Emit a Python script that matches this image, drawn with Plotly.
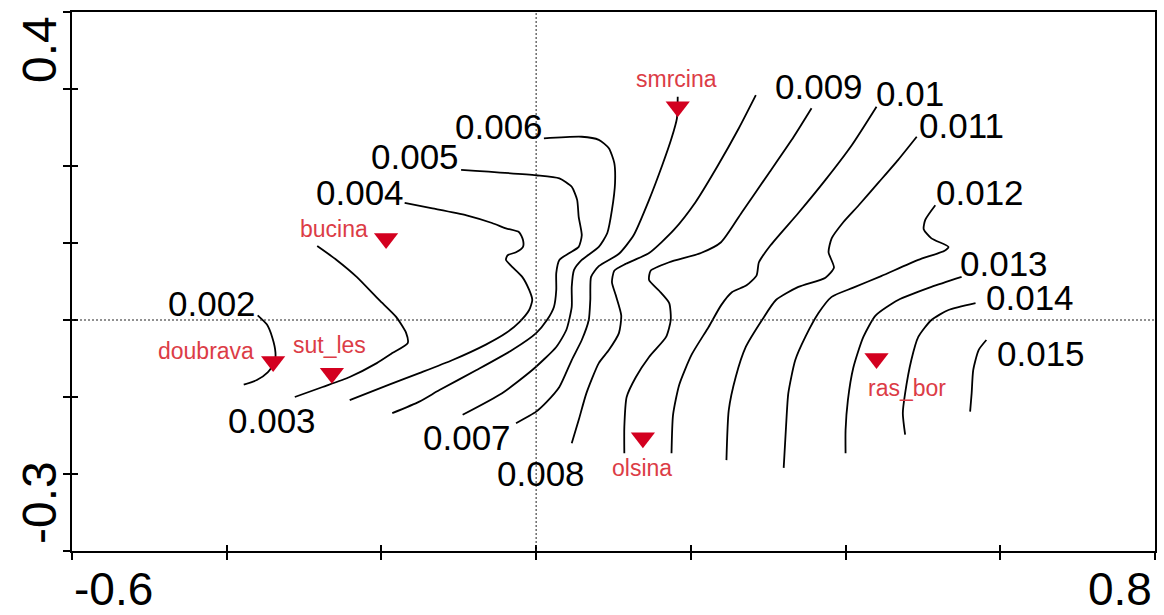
import plotly.graph_objects as go

# ---- isolines of the fitted response surface (ordination axes 1 and 2) ----
levels = [0.002, 0.003, 0.004, 0.005, 0.006, 0.007, 0.008,
          0.009, 0.01, 0.011, 0.012, 0.013, 0.014, 0.015]

x_002 = [-0.360, -0.348, -0.341, -0.337, -0.338, -0.347, -0.361, -0.378]
y_002 = [0.006, -0.006, -0.023, -0.042, -0.055, -0.068, -0.078, -0.084]

x_003 = [-0.312, -0.276, -0.241, -0.206, -0.186, -0.166, -0.168, -0.181, -0.203, -0.232, -0.258, -0.283]
y_003 = [-0.100, -0.087, -0.074, -0.056, -0.043, -0.030, -0.017, 0.004, 0.026, 0.056, 0.078, 0.096]

x_004 = [-0.170, -0.134, -0.090, -0.057, -0.039, -0.022, -0.017, -0.017, -0.026, -0.037, -0.039, -0.031,
         -0.018, -0.009, -0.005, -0.009, -0.022, -0.039, -0.065, -0.108, -0.151, -0.190, -0.241]
y_004 = [0.152, 0.145, 0.136, 0.126, 0.119, 0.114, 0.104, 0.095, 0.088, 0.084, 0.078, 0.069,
         0.056, 0.039, 0.026, 0.013, -0.003, -0.017, -0.032, -0.052, -0.069, -0.084, -0.104]

x_005 = [-0.097, 0.000, 0.030, 0.046, 0.053, 0.055, 0.059, 0.055, 0.043, 0.030, 0.026, 0.026,
         0.023, 0.014, 0.000, -0.031, -0.077, -0.125, -0.151, -0.186]
y_005 = [0.195, 0.188, 0.184, 0.173, 0.156, 0.134, 0.110, 0.095, 0.087, 0.078, 0.061, 0.039,
         0.017, 0.000, -0.017, -0.039, -0.065, -0.091, -0.106, -0.121]

x_006 = [0.010, 0.059, 0.081, 0.094, 0.101, 0.102, 0.098, 0.092, 0.081, 0.059, 0.049, 0.046,
         0.046, 0.039, 0.026, -0.005, -0.044, -0.095]
y_006 = [0.236, 0.238, 0.234, 0.223, 0.204, 0.178, 0.143, 0.113, 0.095, 0.078, 0.065, 0.043,
         0.017, -0.013, -0.035, -0.065, -0.095, -0.123]

x_007 = [-0.026, 0.000, 0.014, 0.030, 0.046, 0.059, 0.068, 0.070, 0.071, 0.081, 0.107, 0.126,
         0.146, 0.163, 0.175, 0.182, 0.183]
y_007 = [-0.134, -0.119, -0.106, -0.087, -0.052, -0.026, 0.000, 0.026, 0.056, 0.070, 0.086, 0.110,
         0.156, 0.201, 0.236, 0.262, 0.290]

x_008 = [0.046, 0.055, 0.065, 0.081, 0.094, 0.107, 0.110, 0.103, 0.098, 0.101, 0.116, 0.146,
         0.178, 0.206, 0.234, 0.262, 0.284]
y_008 = [-0.160, -0.130, -0.095, -0.056, -0.039, -0.017, 0.006, 0.032, 0.049, 0.064, 0.073, 0.087,
         0.117, 0.153, 0.199, 0.249, 0.292]

x_009 = [0.114, 0.114, 0.117, 0.129, 0.146, 0.168, 0.174, 0.172, 0.159, 0.146, 0.148, 0.172,
         0.213, 0.239, 0.266, 0.301, 0.333, 0.356]
y_009 = [-0.173, -0.139, -0.100, -0.074, -0.048, -0.022, 0.000, 0.022, 0.038, 0.052, 0.064, 0.075,
         0.087, 0.101, 0.140, 0.191, 0.238, 0.275]

x_010 = [0.175, 0.177, 0.185, 0.201, 0.223, 0.239, 0.253, 0.272, 0.285, 0.288, 0.303, 0.339,
         0.374, 0.408, 0.440]
y_010 = [-0.173, -0.123, -0.084, -0.045, -0.009, 0.019, 0.036, 0.045, 0.058, 0.075, 0.097, 0.139,
         0.182, 0.227, 0.277]

x_011 = [0.246, 0.249, 0.258, 0.271, 0.292, 0.310, 0.339, 0.374, 0.385, 0.378, 0.382, 0.397,
         0.417, 0.443, 0.468, 0.492]
y_011 = [-0.182, -0.117, -0.074, -0.035, 0.000, 0.026, 0.043, 0.055, 0.068, 0.088, 0.106, 0.127,
         0.149, 0.179, 0.208, 0.238]

x_012 = [0.320, 0.323, 0.326, 0.335, 0.348, 0.365, 0.382, 0.410, 0.446, 0.494, 0.528, 0.533,
         0.511, 0.501, 0.503, 0.516]
y_012 = [-0.192, -0.139, -0.095, -0.052, -0.022, 0.009, 0.030, 0.042, 0.057, 0.078, 0.090, 0.095,
         0.106, 0.118, 0.130, 0.149]

x_013 = [0.400, 0.400, 0.403, 0.410, 0.423, 0.439, 0.468, 0.511, 0.550]
y_013 = [-0.173, -0.143, -0.104, -0.062, -0.022, 0.006, 0.026, 0.043, 0.056]

x_014 = [0.477, 0.474, 0.477, 0.485, 0.494, 0.511, 0.533, 0.568]
y_014 = [-0.149, -0.121, -0.095, -0.052, -0.022, 0.000, 0.013, 0.022]

x_015 = [0.561, 0.563, 0.565, 0.572, 0.582]
y_015 = [-0.119, -0.095, -0.065, -0.039, -0.026]

isolines = [(x_002, y_002), (x_003, y_003), (x_004, y_004), (x_005, y_005),
            (x_006, y_006), (x_007, y_007), (x_008, y_008), (x_009, y_009),
            (x_010, y_010), (x_011, y_011), (x_012, y_012), (x_013, y_013),
            (x_014, y_014), (x_015, y_015)]

# ---- sample sites (passive) ----
site_names = ["doubrava", "sut_les", "bucina", "olsina", "smrcina", "ras_bor"]
site_x = [-0.340, -0.264, -0.194, 0.138, 0.183, 0.440]
site_y = [-0.054, -0.069, 0.106, -0.153, 0.277, -0.050]

# ---- axis end labels ----
x_range = [-0.6, 0.8]
y_range = [-0.3, 0.4]
x_tick_labels = ["-0.6", "0.8"]
y_tick_labels = ["-0.3", "0.4"]

# ---- styling / placement (not data) ----
FONT = "Liberation Sans, Arial, sans-serif"
SITE_RED = "#d3001f"
SITE_TEXT = "#dc3c46"
# where each isoline value is written (axis units)
level_label_pos = [(-0.419, 0.021), (-0.341, -0.130), (-0.228, 0.166), (-0.157, 0.212),
                   (-0.048, 0.251), (-0.089, -0.153), (0.006, -0.199), (0.366, 0.303),
                   (0.483, 0.294), (0.550, 0.253), (0.574, 0.166), (0.605, 0.073),
                   (0.639, 0.029), (0.652, -0.043)]
# pixel offsets of site names from their symbols: (xanchor, xshift, yshift)
site_label_offset = [("right", -17, 11), ("center", -2, 28), ("center", -52, 9),
                     ("center", -1, -30), ("center", -1, 28), ("center", 30, -29)]

fig = go.Figure()

for (xs, ys) in isolines:
    fig.add_trace(go.Scatter(
        x=xs, y=ys, mode="lines",
        line=dict(color="black", width=1.8, shape="spline", smoothing=0.6),
        hoverinfo="skip", showlegend=False))

fig.add_trace(go.Scatter(
    x=site_x, y=site_y, mode="markers",
    marker=dict(symbol="triangle-down", size=21, color=SITE_RED, line=dict(width=0)),
    text=site_names, hoverinfo="text", showlegend=False))

# companion axes carrying the inward half of the crossing tick marks
fig.add_trace(go.Scatter(x=[None], y=[None], xaxis="x2", yaxis="y2",
                         showlegend=False, hoverinfo="skip"))

annotations = []
for lv, (lx, ly) in zip(levels, level_label_pos):
    annotations.append(dict(x=lx, y=ly, xref="x", yref="y", text=f"{lv:g}",
                            showarrow=False, xanchor="center", yanchor="middle",
                            font=dict(family=FONT, size=35, color="black")))

for name, sx, sy, (xa, dx, dy) in zip(site_names, site_x, site_y, site_label_offset):
    annotations.append(dict(x=sx, y=sy, xref="x", yref="y", text=name,
                            showarrow=False, xanchor=xa, yanchor="middle",
                            xshift=dx, yshift=dy,
                            font=dict(family=FONT, size=23, color=SITE_TEXT)))

# end labels of the axes
annotations.append(dict(x=x_range[0], y=0, xref="x", yref="paper", text=x_tick_labels[0],
                        showarrow=False, xanchor="left", yanchor="middle", yshift=-38,
                        font=dict(family=FONT, size=46, color="black")))
annotations.append(dict(x=x_range[1], y=0, xref="x", yref="paper", text=x_tick_labels[1],
                        showarrow=False, xanchor="right", yanchor="middle", yshift=-38, xshift=-1,
                        font=dict(family=FONT, size=46, color="black")))
annotations.append(dict(x=0, y=y_range[0], xref="paper", yref="y", text=y_tick_labels[0],
                        showarrow=False, xanchor="right", yanchor="bottom", textangle=-90,
                        xshift=-4, yshift=5,
                        font=dict(family=FONT, size=48, color="black")))
annotations.append(dict(x=0, y=y_range[1], xref="paper", yref="y", text=y_tick_labels[1],
                        showarrow=False, xanchor="right", yanchor="top", textangle=-90,
                        xshift=-4, yshift=-2,
                        font=dict(family=FONT, size=48, color="black")))

shapes = [
    dict(type="line", xref="x", yref="paper", x0=0, x1=0, y0=0, y1=1,
         line=dict(color="#222222", width=1, dash="2px,2px")),
    dict(type="line", xref="paper", yref="y", x0=0, x1=1, y0=0, y1=0,
         line=dict(color="#222222", width=1, dash="2px,2px")),
]

x_ticks = [-0.6, -0.4, -0.2, 0.0, 0.2, 0.4, 0.6, 0.8]
y_ticks = [-0.3, -0.2, -0.1, 0.0, 0.1, 0.2, 0.3, 0.4]

axis_common = dict(showgrid=False, zeroline=False, showticklabels=False,
                   tickcolor="black", tickwidth=2)

fig.update_layout(
    width=1164, height=615, autosize=False,
    margin=dict(l=72, r=7, t=12, b=64),
    paper_bgcolor="white", plot_bgcolor="white",
    xaxis=dict(range=x_range, tickvals=x_ticks, ticks="outside", ticklen=7,
               showline=True, linecolor="black", linewidth=2, mirror=True, **axis_common),
    yaxis=dict(range=y_range, tickvals=y_ticks, ticks="outside", ticklen=7,
               showline=True, linecolor="black", linewidth=2, mirror=True, **axis_common),
    xaxis2=dict(range=x_range, tickvals=x_ticks, ticks="inside", ticklen=6,
                overlaying="x", anchor="y2", side="bottom", showline=False, **axis_common),
    yaxis2=dict(range=y_range, tickvals=y_ticks, ticks="inside", ticklen=6,
                overlaying="y", anchor="x2", side="left", showline=False, **axis_common),
    annotations=annotations,
    shapes=shapes,
    hovermode="closest",
)

fig.write_html("out.html")
